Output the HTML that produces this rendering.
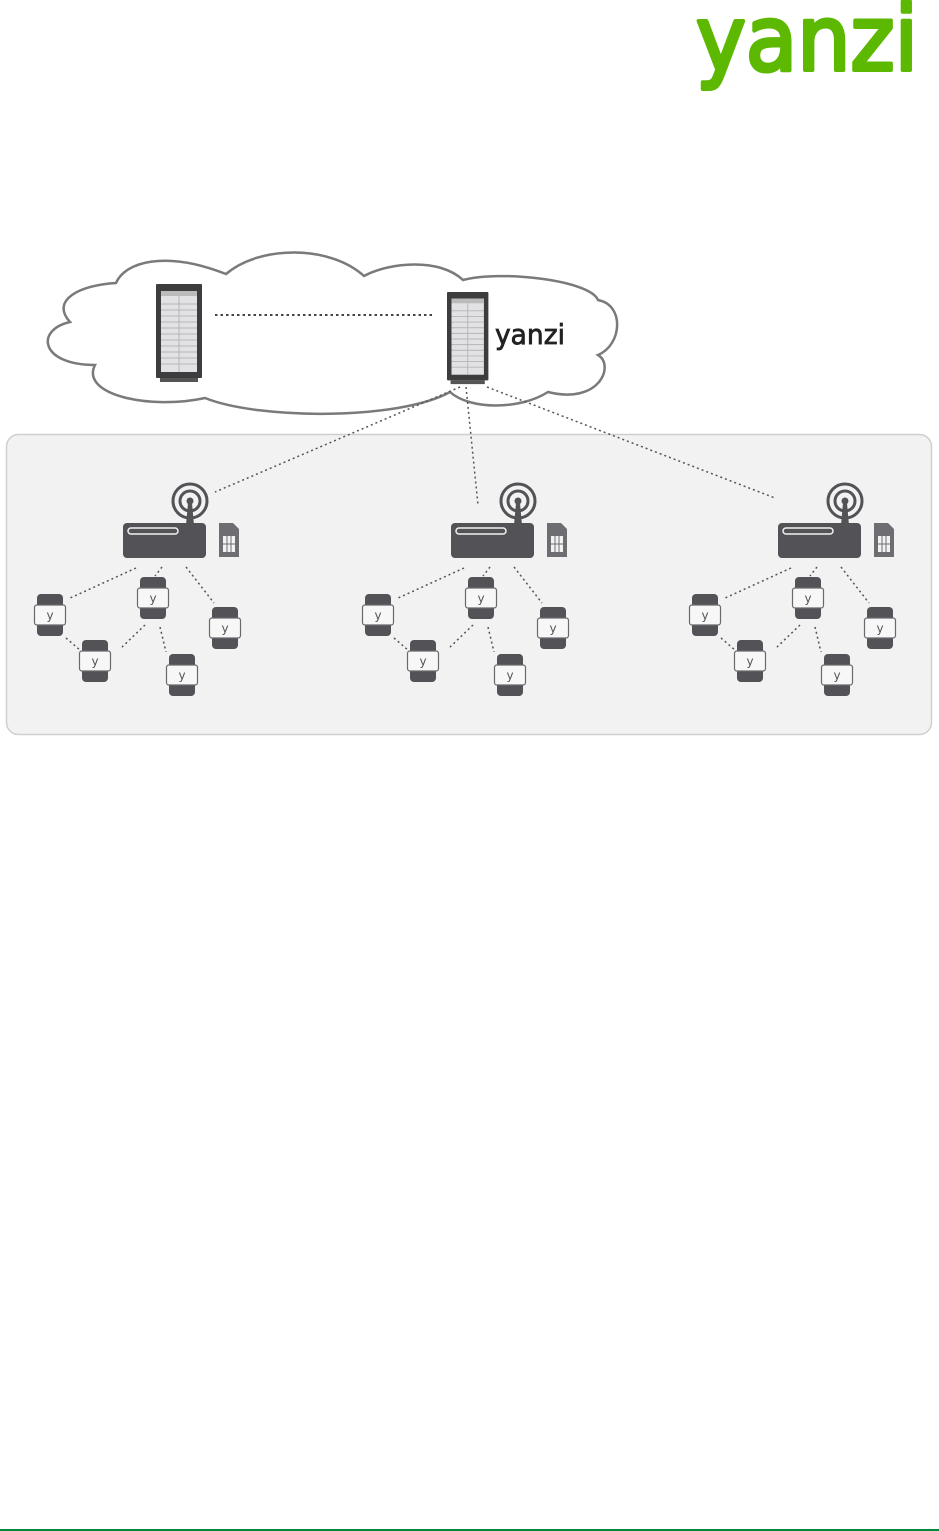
<!DOCTYPE html>
<html><head><meta charset="utf-8"><style>
html,body{margin:0;padding:0;background:#fff;}
svg{display:block;}
</style></head><body>
<svg width="939" height="1531" viewBox="0 0 939 1531" xmlns="http://www.w3.org/2000/svg">
<defs>
<g id="sensor">
  <rect x="-13" y="-21" width="26" height="42" rx="4" fill="#525257"/>
  <rect x="-15.5" y="-10" width="31" height="20" rx="2.5" fill="#f7f7f7" stroke="#6a6a6e" stroke-width="1.2"/>
  <text x="0" y="4.5" font-family="'DejaVu Sans',sans-serif" font-size="12" fill="#555" text-anchor="middle">y</text>
</g>
<g id="group">
  <circle cx="190" cy="501" r="17" fill="none" stroke="#525257" stroke-width="3"/>
  <circle cx="190" cy="501" r="10" fill="none" stroke="#525257" stroke-width="3"/>
  <circle cx="190" cy="501" r="3.5" fill="#525257"/>
  <path d="M188 503 L192 503 L194 525 L186 525 Z" fill="#525257"/>
  <rect x="123" y="523" width="83" height="35" rx="4" fill="#525257"/>
  <rect x="128" y="528" width="50" height="6" rx="3" fill="none" stroke="#f2f2f2" stroke-width="1.5"/>
  <path d="M219 523 L233 523 L239 529 L239 557 L219 557 Z" fill="#6e6e72"/>
  <rect x="223" y="536" width="12" height="16" fill="#f2f2f2"/>
  <path d="M223 544 H235 M227 536 V552 M231 536 V552" stroke="#6e6e72" stroke-width="1"/>
  <g stroke="#555" stroke-width="1.5" stroke-dasharray="2 3" fill="none">
    <line x1="136" y1="568" x2="68" y2="599"/>
    <line x1="162" y1="567" x2="155" y2="576"/>
    <line x1="186" y1="567" x2="214" y2="603"/>
    <line x1="66" y1="638" x2="80" y2="650"/>
    <line x1="145" y1="625" x2="121" y2="648"/>
    <line x1="160" y1="627" x2="166" y2="652"/>
  </g>
  <use href="#sensor" x="50" y="615"/>
  <use href="#sensor" x="153" y="598"/>
  <use href="#sensor" x="225" y="628"/>
  <use href="#sensor" x="95" y="661"/>
  <use href="#sensor" x="182" y="675"/>
</g>
<g id="rack">
  <rect x="0" y="0" width="46" height="94" rx="1" fill="#3d3d40"/>
  <rect x="5" y="7" width="36" height="81" fill="#e2e2e4"/>
  <rect x="5" y="7" width="36" height="5" fill="#bbb"/>
  <g stroke="#b5b5b8" stroke-width="1">
    <line x1="5" y1="20" x2="41" y2="20"/><line x1="5" y1="26" x2="41" y2="26"/><line x1="5" y1="32" x2="41" y2="32"/>
    <line x1="5" y1="38" x2="41" y2="38"/><line x1="5" y1="44" x2="41" y2="44"/><line x1="5" y1="50" x2="41" y2="50"/>
    <line x1="5" y1="56" x2="41" y2="56"/><line x1="5" y1="62" x2="41" y2="62"/><line x1="5" y1="68" x2="41" y2="68"/>
    <line x1="5" y1="74" x2="41" y2="74"/><line x1="5" y1="80" x2="41" y2="80"/>
    <line x1="23" y1="12" x2="23" y2="88"/>
  </g>
  <rect x="4" y="94" width="38" height="4" fill="#555"/>
</g>
</defs>

<text x="696" y="70" font-family="'DejaVu Sans',sans-serif" font-size="90" fill="#5cb800" stroke="#5cb800" stroke-width="4" stroke-linejoin="round" textLength="222" lengthAdjust="spacingAndGlyphs">yanzi</text>

<path d="M116 283 C125 262 165 250 226 274 C260 245 330 245 364 276 C390 262 440 258 463 280 C500 270 590 280 598 300 C625 305 622 345 598 355 C615 365 600 405 548 392 C520 410 470 410 450 392 C400 420 260 420 205 398 C150 410 80 395 95 365 C40 365 35 330 70 322 C50 300 80 285 116 283 Z" fill="#fff" stroke="#7a7a7a" stroke-width="2.5"/>

<use href="#rack" x="156" y="284"/>
<g transform="translate(447,292) scale(0.9,0.94)"><use href="#rack"/></g>
<text x="495" y="344" font-family="'DejaVu Sans',sans-serif" font-size="28" fill="#222" stroke="#222" stroke-width="0.8" textLength="70" lengthAdjust="spacingAndGlyphs">yanzi</text>
<line x1="215" y1="315" x2="433" y2="315" stroke="#444" stroke-width="2" stroke-dasharray="2.5 3"/>

<rect x="6.5" y="434.5" width="925" height="300" rx="12" fill="#f2f2f2" stroke="#cfcfcf" stroke-width="1.5"/>

<g stroke="#555" stroke-width="1.5" stroke-dasharray="2 3" fill="none">
  <line x1="460" y1="387" x2="215" y2="492"/>
  <line x1="466" y1="387" x2="478" y2="505"/>
  <line x1="487" y1="387" x2="775" y2="498"/>
</g>

<use href="#group"/>
<use href="#group" x="328"/>
<use href="#group" x="655"/>

<rect x="0" y="1529" width="939" height="2" fill="#00873c"/>
</svg>
</body></html>
